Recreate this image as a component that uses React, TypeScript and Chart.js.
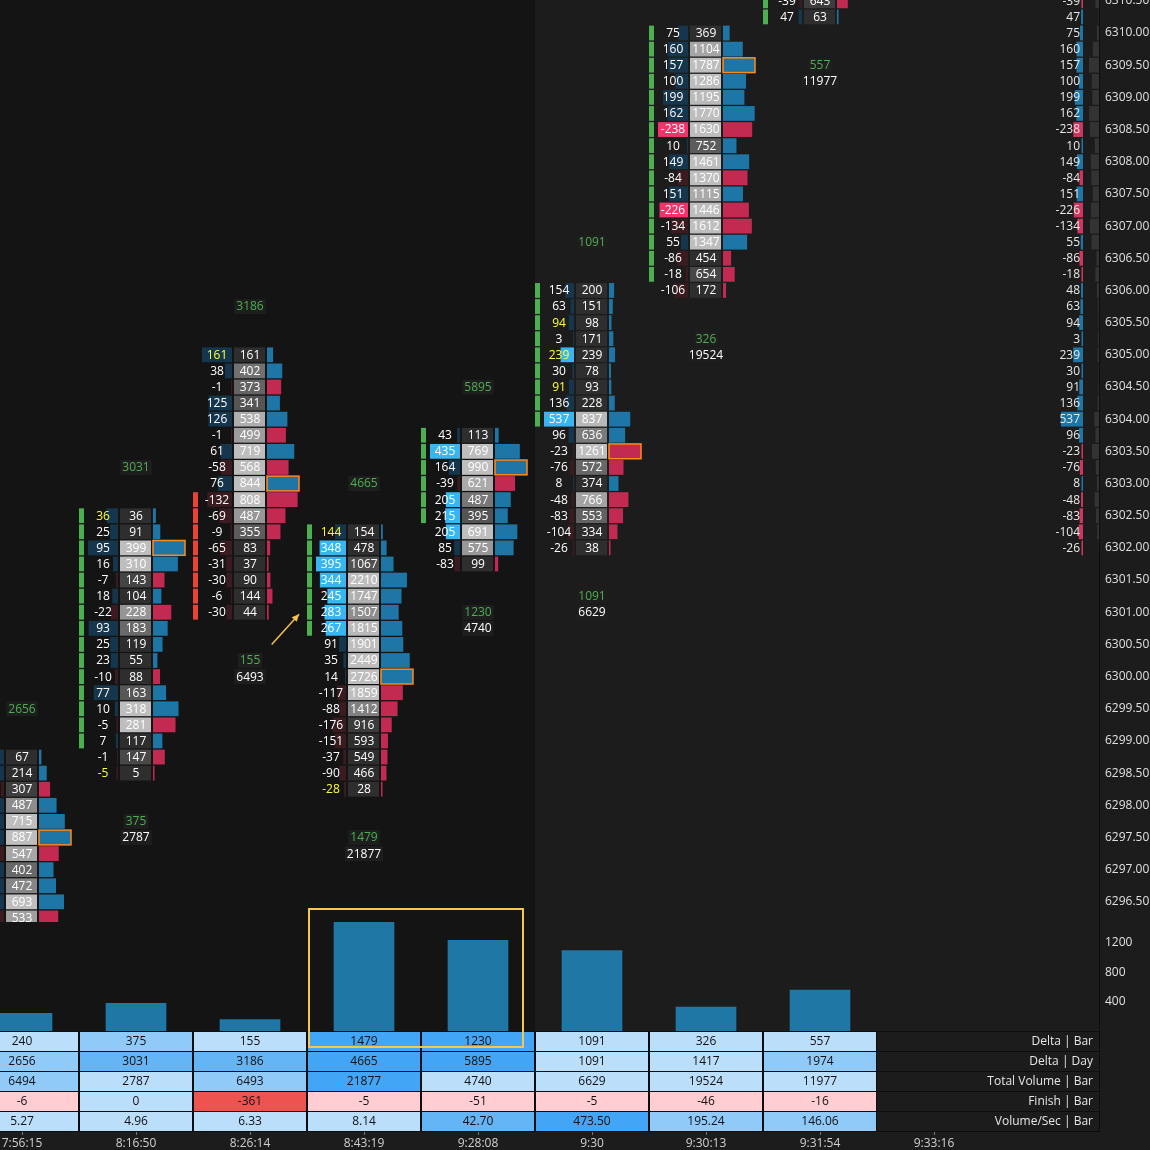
import React, { useEffect, useRef } from 'react';
import { Chart, registerables } from 'chart.js';
Chart.register(...registerables);

const FONT = "'Open Sans', 'Noto Sans', sans-serif";
const TICK = 0.25;

const times = ['7:56:15', '8:16:50', '8:26:14', '8:43:19', '9:28:08', '9:30', '9:30:13', '9:31:54', '9:33:16'];
// price of the first (top) row of each footprint column
const colTop = [6298.75, 6302.5, 6305.0, 6302.25, 6303.75, 6306.0, 6310.0, 6311.0];

const c1Delta = [14, 35, -8, 48, 61, 75, -30, 27, 33, 52, -13];
const c1Vol = [67, 214, 307, 487, 715, 887, 547, 402, 472, 693, 533];
const c2Delta = [36, 25, 95, 16, -7, 18, -22, 93, 25, 23, -10, 77, 10, -5, 7, -1, -5];
const c2Vol = [36, 91, 399, 310, 143, 104, 228, 183, 119, 55, 88, 163, 318, 281, 117, 147, 5];
const c3Delta = [161, 38, -1, 125, 126, -1, 61, -58, 76, -132, -69, -9, -65, -31, -30, -6, -30];
const c3Vol = [161, 402, 373, 341, 538, 499, 719, 568, 844, 808, 487, 355, 83, 37, 90, 144, 44];
const c4Delta = [144, 348, 395, 344, 245, 283, 267, 91, 35, 14, -117, -88, -176, -151, -37, -90, -28];
const c4Vol = [154, 478, 1067, 2210, 1747, 1507, 1815, 1901, 2449, 2726, 1859, 1412, 916, 593, 549, 466, 28];
const c5Delta = [43, 435, 164, -39, 205, 215, 205, 85, -83];
const c5Vol = [113, 769, 990, 621, 487, 395, 691, 575, 99];
const c6Delta = [154, 63, 94, 3, 239, 30, 91, 136, 537, 96, -23, -76, 8, -48, -83, -104, -26];
const c6Vol = [200, 151, 98, 171, 239, 78, 93, 228, 837, 636, 1261, 572, 374, 766, 553, 334, 38];
const c7Delta = [75, 160, 157, 100, 199, 162, -238, 10, 149, -84, 151, -226, -134, 55, -86, -18, -106];
const c7Vol = [369, 1104, 1787, 1286, 1195, 1770, 1630, 752, 1461, 1370, 1115, 1446, 1612, 1347, 454, 654, 172];
const c8Delta = [410, -120, -39, 47];
const c8Vol = [1900, 1500, 643, 63];

const greenMarks = [0, 15, 0, 7, 6, 9, 16, 4]; // rows from the top flagged green
const redMarks = [0, 0, 8, 0, 0, 0, 0, 0]; // rows from the bottom flagged red

// day (session from 9:30) delta ladder on the right, from 6310.50 down to 6302.00
const ladderTop = 6310.5;
const dayDelta = [-39, 47, 75, 160, 157, 100, 199, 162, -238, 10, 149, -84, 151, -226, -134, 55, -86, -18, 48, 63, 94, 3, 239, 30, 91, 136, 537, 96, -23, -76, 8, -48, -83, -104, -26];
const sessionCols = [5, 6, 7];

const deltaBar = [240, 375, 155, 1479, 1230, 1091, 326, 557];
const deltaDay = [2656, 3031, 3186, 4665, 5895, 1091, 1417, 1974];
const totalVolume = [6494, 2787, 6493, 21877, 4740, 6629, 19524, 11977];
const finish = [-6, 0, -361, -5, -51, -5, -46, -16];
const volPerSec = [5.27, 4.96, 6.33, 8.14, 42.7, 473.5, 195.24, 146.06];

const lvlDeltaBar = [0, 1, 0, 3, 3, 0, 0, 0];
const lvlDeltaDay = [1, 2, 2, 3, 3, 0, 0, 1];
const lvlTotalVol = [1, 0, 1, 3, 0, 0, 0, 0];
const lvlFinish = [-1, 0, -3, -1, -1, -1, -1, -1];
const lvlVolSec = [0, 0, 0, 0, 2, 3, 1, 1];

const priceTicks = [6310.5, 6310, 6309.5, 6309, 6308.5, 6308, 6307.5, 6307, 6306.5, 6306, 6305.5, 6305, 6304.5, 6304, 6303.5, 6303, 6302.5, 6302, 6301.5, 6301, 6300.5, 6300, 6299.5, 6299, 6298.5, 6298, 6297.5, 6297, 6296.5];
const volTicks = [400, 800, 1200];

const highlightCols = [3, 4];
const arrowFrom = [2.19, 6300.5];
const arrowTo = [2.43, 6300.97];
const sessionSplit = 4.5;

const cols = [
  [c1Delta, c1Vol], [c2Delta, c2Vol], [c3Delta, c3Vol], [c4Delta, c4Vol],
  [c5Delta, c5Vol], [c6Delta, c6Vol], [c7Delta, c7Vol], [c8Delta, c8Vol],
];

const cellColors: Record<string, string> = {
  '0': '#bbdefb', '1': '#90caf9', '2': '#64b5f6', '3': '#42a5f5', '-1': '#ffcdd2', '-3': '#ef5350',
};

function shade(t: number) {
  const a = Math.min(1, Math.max(0, (t - 0.3) / 0.38));
  const g = Math.round(0x2e + (0xbe - 0x2e) * a);
  return `rgb(${g},${g},${g})`;
}

const footprintPlugin = {
  id: 'footprint',
  beforeDraw(chart: any) {
    const { ctx, width, height, chartArea, scales } = chart;
    ctx.save();
    ctx.fillStyle = '#1c1c1c';
    ctx.fillRect(0, 0, width, height);
    const split = scales.x.getPixelForValue(sessionSplit);
    ctx.fillStyle = '#141414';
    ctx.fillRect(chartArea.left, 0, split - chartArea.left, chartArea.bottom);
    ctx.restore();
  },
  afterDatasetsDraw(chart: any) {
    const { ctx, chartArea, scales } = chart;
    const x = scales.x, y = scales.y, yv = scales.yv;
    const font = `12px ${FONT}`;
    ctx.save();
    ctx.beginPath();
    ctx.rect(chartArea.left, 0, chartArea.right - chartArea.left, y.bottom);
    ctx.clip();
    ctx.font = font;
    ctx.textBaseline = 'middle';
    ctx.textAlign = 'center';

    cols.forEach(([dl, vl], k) => {
      const c = x.getPixelForValue(k);
      const top = colTop[k];
      const maxV = Math.max(...vl);
      const maxD = Math.max(...dl.map((d) => Math.abs(d)));
      const n = dl.length;
      dl.forEach((d, i) => {
        const p = top - i * TICK;
        const yc = y.getPixelForValue(p);
        const rh = y.getPixelForValue(p - TICK) - yc;
        const h = rh - 1.3;
        const y0 = yc - h / 2;
        const v = vl[i];
        if (i < greenMarks[k]) { ctx.fillStyle = '#4caf50'; ctx.fillRect(c - 57, y0, 5, h); }
        if (i >= n - redMarks[k]) { ctx.fillStyle = '#e84335'; ctx.fillRect(c - 57, y0, 5, h); }
        const strong = Math.abs(d) >= 200;
        const dw = Math.max(1, (Math.abs(d) / maxD) * 30);
        ctx.fillStyle = d >= 0 ? (strong ? '#38b6f2' : '#16364d') : (strong ? '#f5336a' : '#3a1b1f');
        ctx.fillRect(c - 18 - dw, y0, dw, h);
        ctx.fillStyle = Math.abs(d) / v >= 0.9 ? '#ffff33' : '#ffffff';
        ctx.fillText(String(d), c - 33, yc + 0.5);
        ctx.fillStyle = shade(v / maxV);
        ctx.fillRect(c - 16, y0, 31, h);
        ctx.fillStyle = '#ffffff';
        ctx.fillText(String(v), c, yc + 0.5);
        const pw = Math.max(1.5, (v / maxV) * 32);
        ctx.fillStyle = d >= 0 ? '#1d76a6' : '#c22a52';
        ctx.fillRect(c + 17, y0, pw, h);
        if (v === maxV) {
          ctx.strokeStyle = '#ff8a1c';
          ctx.lineWidth = 1.5;
          ctx.strokeRect(c + 17, y0, pw, h);
        }
      });
      const bottom = top - (n - 1) * TICK;
      const label = (txt: string, p: number, color: string) => {
        const yc = y.getPixelForValue(p);
        const tw = ctx.measureText(txt).width;
        ctx.fillStyle = '#1e1e1e';
        ctx.fillRect(c - tw / 2 - 2, yc - 7.5, tw + 4, 15);
        ctx.fillStyle = color;
        ctx.fillText(txt, c, yc + 0.5);
      };
      label(String(deltaDay[k]), top + 3 * TICK, '#4caf50');
      label(String(deltaBar[k]), bottom - 3 * TICK, '#4caf50');
      label(String(totalVolume[k]), bottom - 4 * TICK, '#ffffff');
    });

    // session ladder on the right
    const dayVol = dayDelta.map((_, i) => {
      const p = ladderTop - i * TICK;
      let s = 0;
      sessionCols.forEach((k) => {
        const idx = Math.round((colTop[k] - p) / TICK);
        const vl = cols[k][1];
        if (idx >= 0 && idx < vl.length) s += vl[idx];
      });
      return s;
    });
    const maxDayVol = Math.max(...dayVol);
    const maxDayDelta = Math.max(...dayDelta.map((d) => Math.abs(d)));
    const R = chartArea.right;
    dayDelta.forEach((d, i) => {
      const p = ladderTop - i * TICK;
      const yc = y.getPixelForValue(p);
      const rh = y.getPixelForValue(p - TICK) - yc;
      const h = rh - 1.3;
      const y0 = yc - h / 2;
      const gw = (dayVol[i] / maxDayVol) * 10;
      ctx.fillStyle = '#333333';
      ctx.fillRect(R - 1 - gw, y0, gw, h);
      const w = Math.max(1.5, (Math.abs(d) / maxDayDelta) * 22);
      ctx.fillStyle = d >= 0 ? '#1d76a6' : '#d0355f';
      ctx.fillRect(R - 17 - w, y0, w, h);
      ctx.fillStyle = '#e8e8e8';
      ctx.textAlign = 'right';
      ctx.fillText(String(d), R - 20, yc + 0.5);
      ctx.textAlign = 'center';
    });

    // arrow
    const ax0 = x.getPixelForValue(arrowFrom[0]), ay0 = y.getPixelForValue(arrowFrom[1]);
    const ax1 = x.getPixelForValue(arrowTo[0]), ay1 = y.getPixelForValue(arrowTo[1]);
    ctx.strokeStyle = '#f2c14e';
    ctx.fillStyle = '#f2c14e';
    ctx.lineWidth = 1.5;
    ctx.beginPath();
    ctx.moveTo(ax0, ay0);
    ctx.lineTo(ax1, ay1);
    ctx.stroke();
    const ang = Math.atan2(ay1 - ay0, ax1 - ax0);
    ctx.beginPath();
    ctx.moveTo(ax1, ay1);
    ctx.lineTo(ax1 - 8 * Math.cos(ang - 0.45), ay1 - 8 * Math.sin(ang - 0.45));
    ctx.lineTo(ax1 - 8 * Math.cos(ang + 0.45), ay1 - 8 * Math.sin(ang + 0.45));
    ctx.closePath();
    ctx.fill();
    ctx.restore();

    // table
    ctx.save();
    ctx.font = font;
    ctx.textBaseline = 'middle';
    const tTop = chartArea.bottom;
    const rowH = 20;
    const rows = [
      { label: 'Delta | Bar', vals: deltaBar.map(String), lv: lvlDeltaBar },
      { label: 'Delta | Day', vals: deltaDay.map(String), lv: lvlDeltaDay },
      { label: 'Total Volume | Bar', vals: totalVolume.map(String), lv: lvlTotalVol },
      { label: 'Finish | Bar', vals: finish.map(String), lv: lvlFinish },
      { label: 'Volume/Sec | Bar', vals: volPerSec.map((v) => v.toFixed(2)), lv: lvlVolSec },
    ];
    const tRight = x.getPixelForValue(deltaBar.length - 1) + 57;
    ctx.fillStyle = '#0e0e0e';
    ctx.fillRect(chartArea.left, tTop, tRight - chartArea.left, rows.length * rowH + 1);
    ctx.fillStyle = '#1c1c1c';
    ctx.fillRect(tRight, tTop, R - tRight, rows.length * rowH);
    rows.forEach((row, r) => {
      const ry = tTop + r * rowH;
      row.vals.forEach((txt, k) => {
        const c = x.getPixelForValue(k);
        ctx.fillStyle = cellColors[String(row.lv[k])];
        ctx.fillRect(c - 56, ry + 1, 112, rowH - 1);
        ctx.fillStyle = '#111111';
        ctx.textAlign = 'center';
        ctx.fillText(txt, c, ry + rowH / 2 + 1);
      });
      ctx.fillStyle = '#0e0e0e';
      ctx.fillRect(tRight, ry, R - tRight, 1);
      ctx.fillStyle = '#e6e6e6';
      ctx.textAlign = 'right';
      ctx.fillText(row.label, R - 7, ry + rowH / 2 + 1);
    });
    ctx.fillStyle = '#0e0e0e';
    ctx.fillRect(tRight, tTop + rows.length * rowH, R - tRight, 1);
    ctx.fillRect(R - 1, 0, 1, tTop + rows.length * rowH + 1);

    // time axis
    const axY = tTop + rows.length * rowH + 1;
    ctx.textAlign = 'center';
    times.forEach((t, k) => {
      const c = x.getPixelForValue(k);
      ctx.fillStyle = '#777777';
      ctx.fillRect(Math.round(c), axY, 1, 3);
      ctx.fillStyle = '#d0d0d0';
      ctx.fillText(t, c, axY + 12);
    });

    // highlight box
    const bx0 = x.getPixelForValue(highlightCols[0]) - 55;
    const bx1 = x.getPixelForValue(highlightCols[1]) + 45;
    const by0 = yv.top - 13;
    const by1 = tTop + 16;
    ctx.strokeStyle = '#f2c94c';
    ctx.lineWidth = 2;
    ctx.strokeRect(bx0, by0, bx1 - bx0, by1 - by0);
    ctx.restore();
  },
};

const fitAxis = (s: any) => {
  s.width = 50;
  s.paddingTop = 0;
  s.paddingBottom = 0;
};

export default function App() {
  const ref = useRef<HTMLCanvasElement>(null);
  useEffect(() => {
    document.body.style.margin = '0';
    const axisFont = { family: FONT, size: 12 };
    const chart = new Chart(ref.current as HTMLCanvasElement, {
      type: 'bar',
      data: {
        datasets: [
          {
            label: 'Delta | Bar',
            data: deltaBar.map((v, i) => ({ x: i, y: v })),
            backgroundColor: '#1e77a4',
            barThickness: 60,
            xAxisID: 'x',
            yAxisID: 'yv',
          } as any,
        ],
      },
      options: {
        animation: false,
        responsive: false,
        maintainAspectRatio: false,
        devicePixelRatio: 1,
        layout: { autoPadding: false, padding: { left: 0, right: 0, top: 0, bottom: 119 } },
        plugins: { legend: { display: false }, tooltip: { enabled: false } },
        scales: {
          x: {
            type: 'linear',
            display: false,
            offset: false,
            min: -22 / 114,
            max: -22 / 114 + 1100 / 114,
          },
          y: {
            type: 'linear',
            position: 'right',
            stack: 'panes',
            stackWeight: 922,
            min: 6296.187,
            max: 6310.513,
            afterFit: fitAxis,
            afterBuildTicks: (s: any) => { s.ticks = priceTicks.map((v) => ({ value: v })); },
            ticks: { color: '#e0e0e0', font: axisFont, padding: 5, autoSkip: false, callback: (v: any) => Number(v).toFixed(2) },
            grid: { display: false, drawTicks: false },
            border: { display: false },
          },
          yv: {
            type: 'linear',
            position: 'right',
            stack: 'panes',
            stackWeight: 109,
            min: 0,
            max: 1480,
            afterFit: fitAxis,
            afterBuildTicks: (s: any) => { s.ticks = volTicks.map((v) => ({ value: v })); },
            ticks: { color: '#e0e0e0', font: axisFont, padding: 5, autoSkip: false, callback: (v: any) => String(v) },
            grid: { display: false, drawTicks: false },
            border: { display: false },
          },
        } as any,
      },
      plugins: [footprintPlugin],
    });
    return () => chart.destroy();
  }, []);
  return (
    <div style={{ position: 'absolute', left: 0, top: 0, width: 1150, height: 1150 }}>
      <canvas ref={ref} width={1150} height={1150} style={{ display: 'block', width: 1150, height: 1150 }} />
    </div>
  );
}
